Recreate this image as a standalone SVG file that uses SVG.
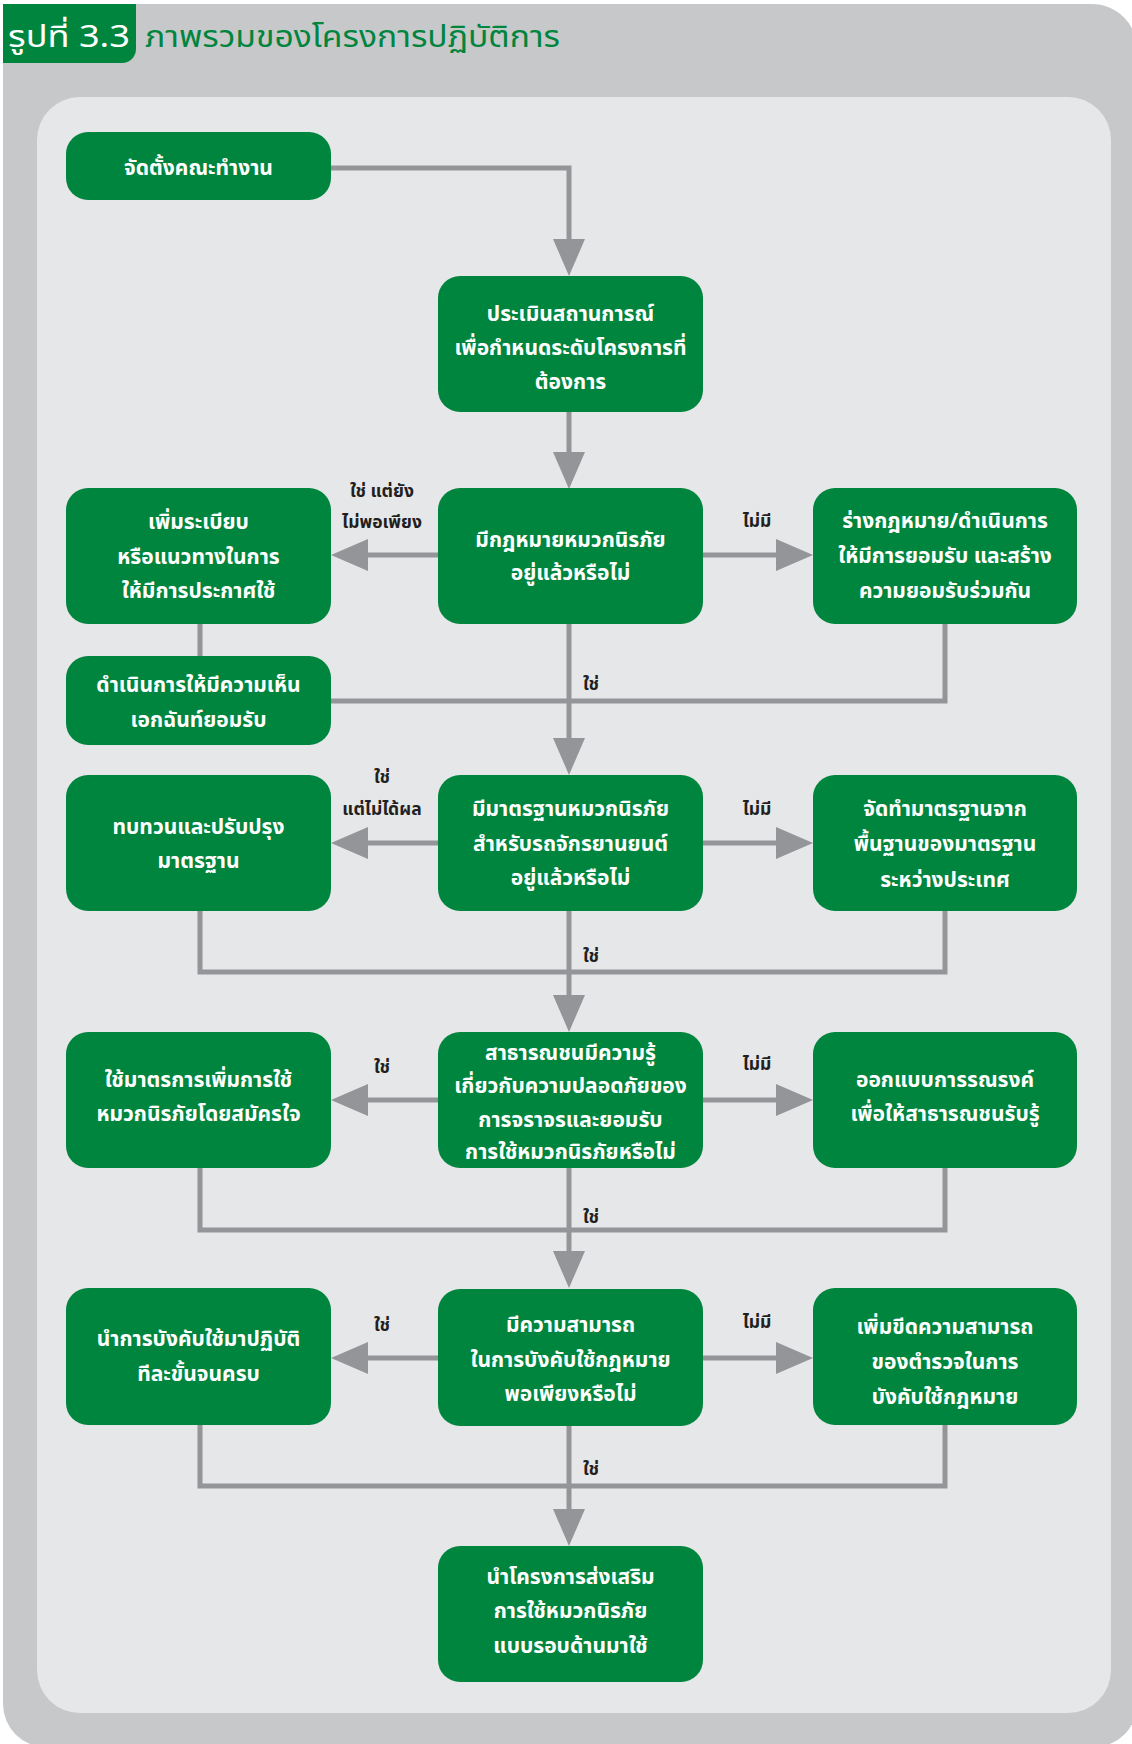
<svg xmlns="http://www.w3.org/2000/svg" width="1132" height="1744" viewBox="0 0 1132 1744">
<defs>
<style>
.bg{fill:#c7c8ca}
.panel{fill:#e6e7e8}
.node{fill:#00853e}
.nt{font-family:"Noto Sans Thai","Noto Sans","DejaVu Sans",sans-serif;font-size:21px;font-weight:bold;fill:#ffffff;text-anchor:middle}
.lb{font-family:"Noto Sans Thai","Noto Sans","DejaVu Sans",sans-serif;font-size:17.5px;font-weight:bold;fill:#231f20;text-anchor:middle}
.ln{fill:none;stroke:#939598;stroke-width:5}
.ar{fill:none;stroke:#939598;stroke-width:5;marker-end:url(#ah)}
</style>
<marker id="ah" markerUnits="userSpaceOnUse" markerWidth="37" markerHeight="32" viewBox="0 0 37 32" refX="0" refY="16" orient="auto">
<path d="M0,0 L37,16 L0,32 Z" fill="#939598"/>
</marker>
</defs>
<path class="bg" d="M3,4 H1092 A45,45 0 0 1 1137,49 V1704 A43,43 0 0 1 1094,1747 H46 A43,43 0 0 1 3,1704 Z"/>
<rect class="panel" x="37" y="97" width="1074" height="1616" rx="43" ry="43"/>
<g id="title">
<path d="M3,4 H136 V49 A14,14 0 0 1 122,63 H3 Z" fill="#00853e"/>
<text x="8" y="47" font-family="Noto Sans Thai,Noto Sans,sans-serif" font-size="30" fill="#ffffff" textLength="122" lengthAdjust="spacingAndGlyphs">รูปที่ 3.3</text>
<text x="145" y="47" font-family="Noto Sans Thai,Noto Sans,sans-serif" font-size="30" fill="#00853e" textLength="415" lengthAdjust="spacingAndGlyphs">ภาพรวมของโครงการปฏิบัติการ</text>
</g>
<g id="connectors">
<path class="ar" d="M331,168 H569 V239"/>
<path class="ar" d="M569,412 V452"/>
<path class="ar" d="M438,555 H368"/>
<path class="ar" d="M703,555 H776"/>
<path class="ln" d="M200,624 V656"/>
<path class="ln" d="M331,701 H945 V624"/>
<path class="ar" d="M569,624 V738"/>
<path class="ar" d="M438,843 H368"/>
<path class="ar" d="M703,843 H776"/>
<path class="ln" d="M200,911 V972 H945 V911"/>
<path class="ar" d="M569,911 V995"/>
<path class="ar" d="M438,1100 H368"/>
<path class="ar" d="M703,1100 H776"/>
<path class="ln" d="M200,1168 V1230 H945 V1168"/>
<path class="ar" d="M569,1168 V1251"/>
<path class="ar" d="M438,1358 H368"/>
<path class="ar" d="M703,1358 H776"/>
<path class="ln" d="M200,1425 V1486 H945 V1425"/>
<path class="ar" d="M569,1426 V1509"/>
</g>
<g id="labels">
<text class="lb" x="382" y="497">ใช่ แต่ยัง</text>
<text class="lb" x="382" y="528">ไม่พอเพียง</text>
<text class="lb" x="757" y="527">ไม่มี</text>
<text class="lb" x="591" y="690">ใช่</text>
<text class="lb" x="382" y="783">ใช่</text>
<text class="lb" x="382" y="815">แต่ไม่ได้ผล</text>
<text class="lb" x="757" y="815">ไม่มี</text>
<text class="lb" x="591" y="962">ใช่</text>
<text class="lb" x="382" y="1073">ใช่</text>
<text class="lb" x="757" y="1070">ไม่มี</text>
<text class="lb" x="591" y="1223">ใช่</text>
<text class="lb" x="382" y="1331">ใช่</text>
<text class="lb" x="757" y="1328">ไม่มี</text>
<text class="lb" x="591" y="1475">ใช่</text>
</g>
<g id="n1"><rect class="node" x="66" y="132" width="265" height="68" rx="22"/><text class="nt" x="198.5" y="175">จัดตั้งคณะทำงาน</text></g>
<g id="n2"><rect class="node" x="438" y="276" width="265" height="136" rx="22"/><text class="nt" x="570.5" y="321">ประเมินสถานการณ์</text><text class="nt" x="570.5" y="355">เพื่อกำหนดระดับโครงการที่</text><text class="nt" x="570.5" y="389">ต้องการ</text></g>
<g id="n3"><rect class="node" x="438" y="488" width="265" height="136" rx="22"/><text class="nt" x="570.5" y="547">มีกฎหมายหมวกนิรภัย</text><text class="nt" x="570.5" y="580">อยู่แล้วหรือไม่</text></g>
<g id="n3l"><rect class="node" x="66" y="488" width="265" height="136" rx="22"/><text class="nt" x="198.5" y="529">เพิ่มระเบียบ</text><text class="nt" x="198.5" y="564">หรือแนวทางในการ</text><text class="nt" x="198.5" y="598">ให้มีการประกาศใช้</text></g>
<g id="n3r"><rect class="node" x="813" y="488" width="264" height="136" rx="22"/><text class="nt" x="945" y="528">ร่างกฎหมาย/ดำเนินการ</text><text class="nt" x="945" y="563">ให้มีการยอมรับ และสร้าง</text><text class="nt" x="945" y="598">ความยอมรับร่วมกัน</text></g>
<g id="n3b"><rect class="node" x="66" y="656" width="265" height="89" rx="22"/><text class="nt" x="198.5" y="692">ดำเนินการให้มีความเห็น</text><text class="nt" x="198.5" y="727">เอกฉันท์ยอมรับ</text></g>
<g id="n4"><rect class="node" x="438" y="775" width="265" height="136" rx="22"/><text class="nt" x="570.5" y="816">มีมาตรฐานหมวกนิรภัย</text><text class="nt" x="570.5" y="851">สำหรับรถจักรยานยนต์</text><text class="nt" x="570.5" y="885">อยู่แล้วหรือไม่</text></g>
<g id="n4l"><rect class="node" x="66" y="775" width="265" height="136" rx="22"/><text class="nt" x="198.5" y="834">ทบทวนและปรับปรุง</text><text class="nt" x="198.5" y="868">มาตรฐาน</text></g>
<g id="n4r"><rect class="node" x="813" y="775" width="264" height="136" rx="22"/><text class="nt" x="945" y="816">จัดทำมาตรฐานจาก</text><text class="nt" x="945" y="851">พื้นฐานของมาตรฐาน</text><text class="nt" x="945" y="887">ระหว่างประเทศ</text></g>
<g id="n5"><rect class="node" x="438" y="1032" width="265" height="136" rx="22"/><text class="nt" x="570.5" y="1060">สาธารณชนมีความรู้</text><text class="nt" x="570.5" y="1093">เกี่ยวกับความปลอดภัยของ</text><text class="nt" x="570.5" y="1127">การจราจรและยอมรับ</text><text class="nt" x="570.5" y="1159">การใช้หมวกนิรภัยหรือไม่</text></g>
<g id="n5l"><rect class="node" x="66" y="1032" width="265" height="136" rx="22"/><text class="nt" x="198.5" y="1087">ใช้มาตรการเพิ่มการใช้</text><text class="nt" x="198.5" y="1121">หมวกนิรภัยโดยสมัครใจ</text></g>
<g id="n5r"><rect class="node" x="813" y="1032" width="264" height="136" rx="22"/><text class="nt" x="945" y="1087">ออกแบบการรณรงค์</text><text class="nt" x="945" y="1121">เพื่อให้สาธารณชนรับรู้</text></g>
<g id="n6"><rect class="node" x="438" y="1289" width="265" height="137" rx="22"/><text class="nt" x="570.5" y="1332">มีความสามารถ</text><text class="nt" x="570.5" y="1367">ในการบังคับใช้กฎหมาย</text><text class="nt" x="570.5" y="1401">พอเพียงหรือไม่</text></g>
<g id="n6l"><rect class="node" x="66" y="1288" width="265" height="137" rx="22"/><text class="nt" x="198.5" y="1346">นำการบังคับใช้มาปฏิบัติ</text><text class="nt" x="198.5" y="1381">ทีละขั้นจนครบ</text></g>
<g id="n6r"><rect class="node" x="813" y="1288" width="264" height="137" rx="22"/><text class="nt" x="945" y="1334">เพิ่มขีดความสามารถ</text><text class="nt" x="945" y="1369">ของตำรวจในการ</text><text class="nt" x="945" y="1404">บังคับใช้กฎหมาย</text></g>
<g id="n7"><rect class="node" x="438" y="1546" width="265" height="136" rx="22"/><text class="nt" x="570.5" y="1584">นำโครงการส่งเสริม</text><text class="nt" x="570.5" y="1618">การใช้หมวกนิรภัย</text><text class="nt" x="570.5" y="1653">แบบรอบด้านมาใช้</text></g>
</svg>
